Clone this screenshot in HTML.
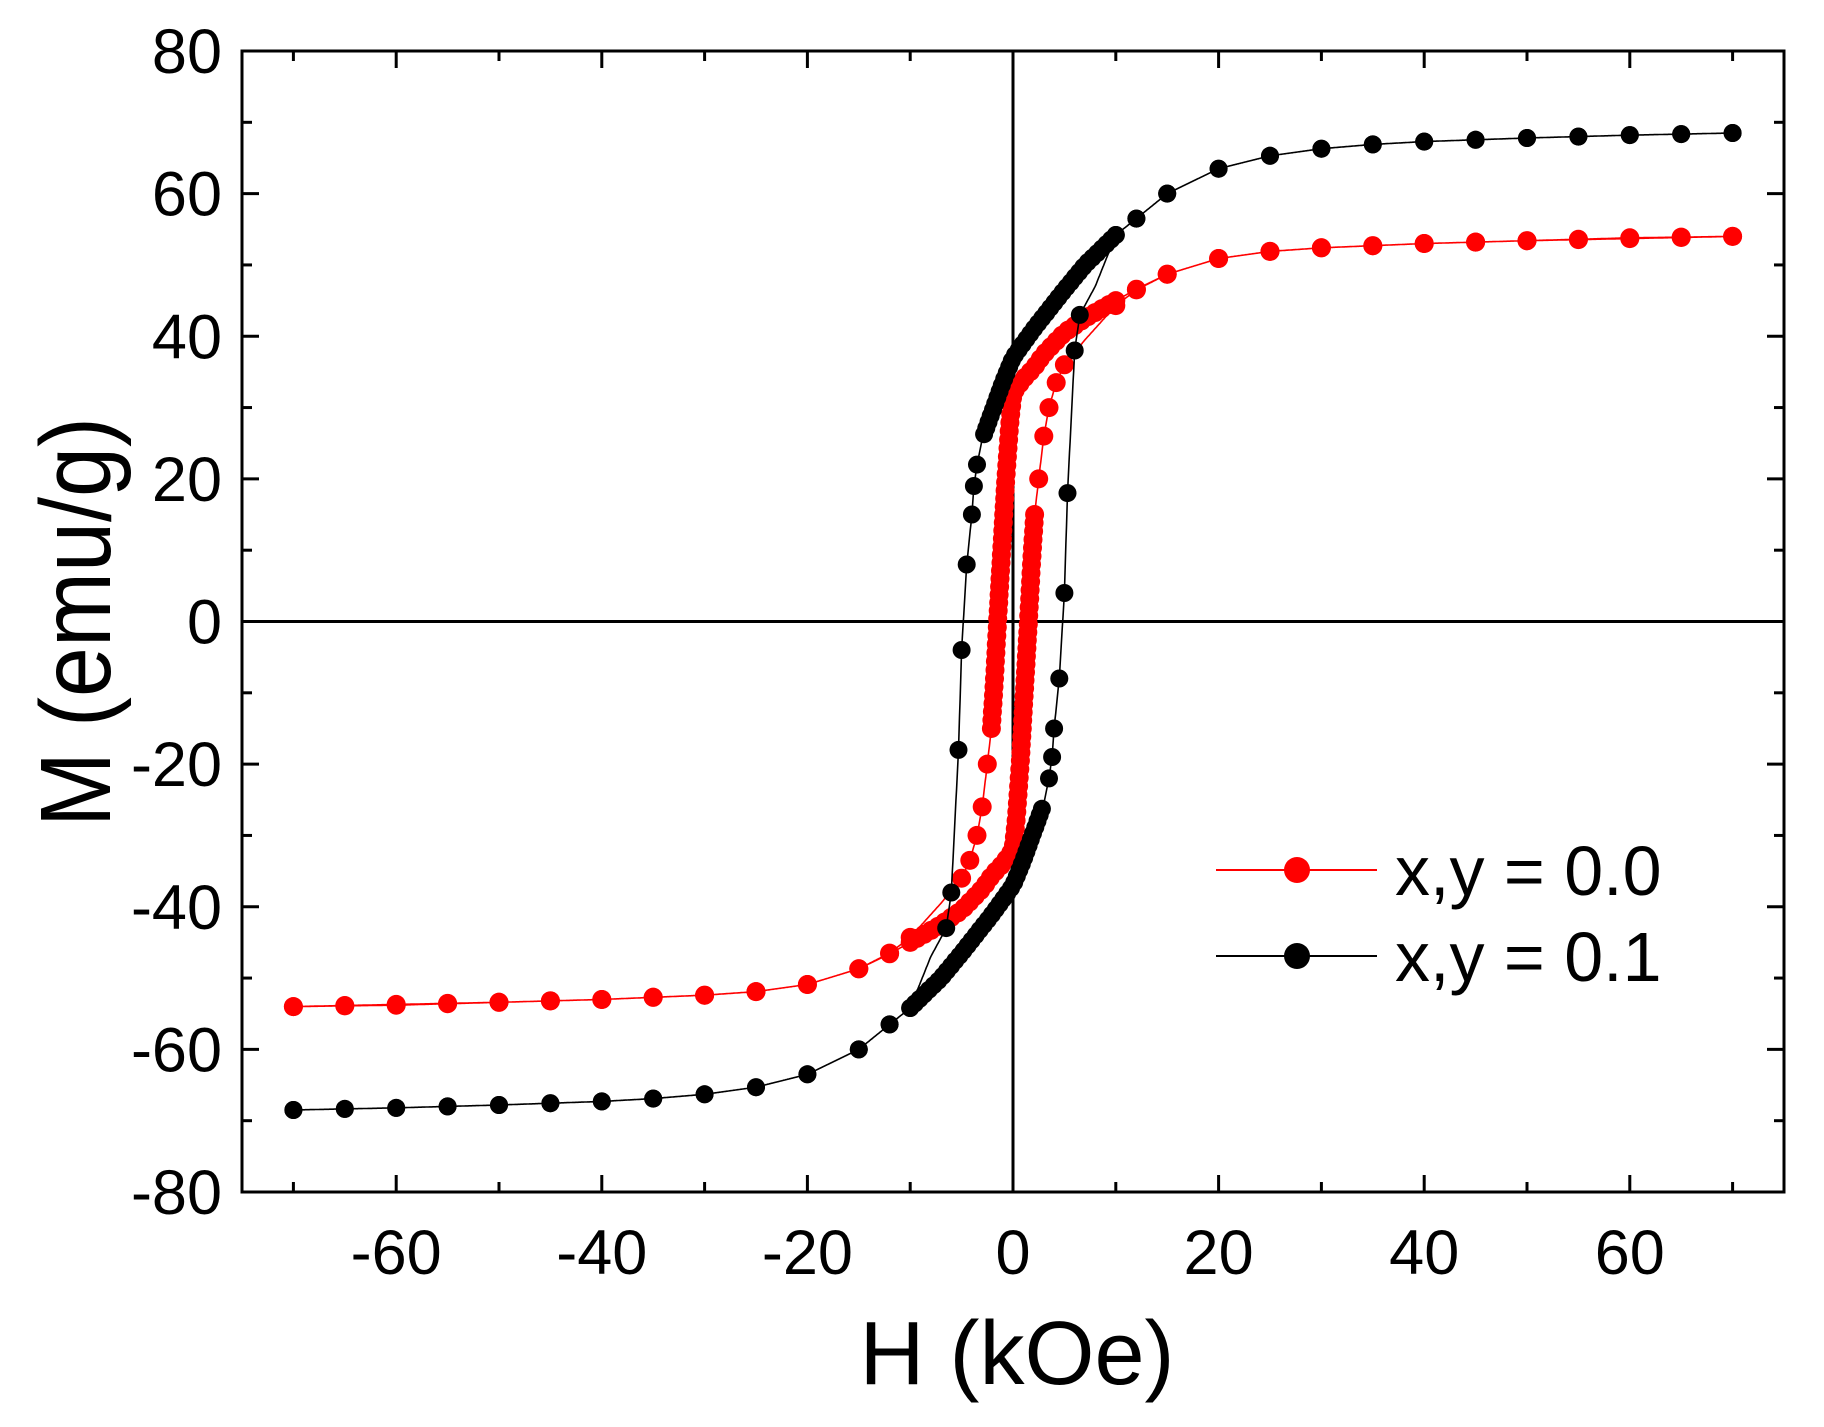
<!DOCTYPE html>
<html><head><meta charset="utf-8"><style>
html,body{margin:0;padding:0;background:#fff;}
svg{display:block;font-family:"Liberation Sans",Arial,sans-serif;}
</style></head><body>
<svg id="s" width="1824" height="1427" viewBox="0 0 1824 1427" xmlns="http://www.w3.org/2000/svg"></svg>
<script>
const S=document.getElementById('s');
const L=242,R=1784,T=51,B=1192;
const X=h=>(L+R)/2+h*(R-L)/150;
const Y=m=>(T+B)/2-m*(B-T)/160;
let out='';
function interp(tab,h){for(let i=0;i<tab.length-1;i++){const a=tab[i],b=tab[i+1];if(h<=a[0]&&h>=b[0]){const t=(h-a[0])/(b[0]-a[0]);return a[1]+t*(b[1]-a[1]);}}return tab[tab.length-1][1];}
function branch(tab,sparseHi,denseFrom,denseTo,jumpList,sparseLo,sp){
 const pts=[];sparseHi.forEach(h=>pts.push([h,interp(tab,h)]));
 let h=denseFrom,last=[X(h),Y(interp(tab,h))];pts.push([h,interp(tab,h)]);
 while(h>denseTo){h-=0.005;const p=[X(h),Y(interp(tab,h))];if(Math.hypot(p[0]-last[0],p[1]-last[1])>=sp){pts.push([h,interp(tab,h)]);last=p;}}
 jumpList.forEach(h=>pts.push([h,interp(tab,h)]));
 sparseLo.forEach(h=>pts.push([h,interp(tab,h)]));
 return pts;}
const hiList=[70,65,60,55,50,45,40,35,30,25,20,15,12];
const loList=[-10,-12,-15,-20,-25,-30,-35,-40,-45,-50,-55,-60,-65,-70];
const red=[[70,54],[60,53.8],[50,53.4],[40,53],[30,52.4],[25,51.9],[20,50.9],[15,48.7],[12,46.6],[10,45],[7,42.5],[5,40.5],[3,37.5],[2,35.5],[1,34],[0,32],[-0.3,28],[-0.7,20],[-1.1,10],[-1.5,0],[-1.8,-8],[-2.1,-15],[-2.5,-20],[-3,-26],[-3.5,-30],[-4.2,-33.5],[-5,-36],[-7,-39.5],[-10,-44.3],[-12,-46.5],[-15,-48.7],[-20,-50.9],[-25,-51.9],[-30,-52.4],[-40,-53],[-50,-53.4],[-60,-53.7],[-70,-54]];
const blk=[[70,68.5],[60,68.2],[50,67.8],[40,67.3],[35,66.9],[30,66.3],[25,65.3],[20,63.5],[15,60],[12,56.5],[10,54.2],[7,50],[5,46.5],[2,41],[0,37],[-1,33.5],[-2,29.5],[-3,25.5],[-3.5,22],[-3.8,19],[-4,15],[-4.5,8],[-5,-4],[-5.3,-18],[-6,-38],[-6.5,-43],[-8,-47],[-10,-54.2],[-12,-56.5],[-15,-60],[-20,-63.5],[-25,-65.3],[-30,-66.3],[-35,-66.9],[-40,-67.3],[-50,-67.8],[-60,-68.2],[-70,-68.5]];
const rd=branch(red,hiList,10,-2.1,[-2.5,-3,-3.5,-4.2,-5],loList,8);
const bd=branch(blk,hiList,10,-3,[-3.5,-3.8,-4,-4.5,-5,-5.3,-6,-6.5],loList,6.5);
function draw(tab,pts,col,r){
 const hs=[];for(let h=70;h>=-70;h-=0.05)hs.push(h);
 let d='M'+hs.map(h=>X(h).toFixed(1)+','+Y(interp(tab,h)).toFixed(1)).join('L');
 d+='M'+hs.slice().reverse().map(h=>X(-h).toFixed(1)+','+Y(-interp(tab,h)).toFixed(1)).join('L');
 out+=`<path d="${d}" fill="none" stroke="${col}" stroke-width="1.6"/>`;
 pts.forEach(p=>{out+=`<circle cx="${X(p[0]).toFixed(1)}" cy="${Y(p[1]).toFixed(1)}" r="${r}" fill="${col}"/>`;
  out+=`<circle cx="${X(-p[0]).toFixed(1)}" cy="${Y(-p[1]).toFixed(1)}" r="${r}" fill="${col}"/>`;});
}
out+=`<line x1="${L}" y1="${Y(0)}" x2="${R}" y2="${Y(0)}" stroke="#000" stroke-width="3"/>`;
out+=`<line x1="${X(0)}" y1="${T}" x2="${X(0)}" y2="${B}" stroke="#000" stroke-width="3"/>`;
draw(red,rd,'#f00',9.5);
draw(blk,bd,'#000',9);
out+=`<rect x="${L}" y="${T}" width="${R-L}" height="${B-T}" fill="none" stroke="#000" stroke-width="3"/>`;
for(let h=-70;h<=70;h+=10){const maj=h%20===0;const len=maj?17:10;const x=X(h);
 out+=`<line x1="${x}" y1="${B}" x2="${x}" y2="${B-len}" stroke="#000" stroke-width="3"/><line x1="${x}" y1="${T}" x2="${x}" y2="${T+len}" stroke="#000" stroke-width="3"/>`;
 if(h%20===0&&Math.abs(h)<=60) out+=`<text x="${x}" y="1274" font-size="63" text-anchor="middle">${h}</text>`;}
for(let m=-80;m<=80;m+=10){const maj=m%20===0;const len=maj?17:10;const y=Y(m);
 out+=`<line x1="${L}" y1="${y}" x2="${L+len}" y2="${y}" stroke="#000" stroke-width="3"/><line x1="${R}" y1="${y}" x2="${R-len}" y2="${y}" stroke="#000" stroke-width="3"/>`;
 if(maj) out+=`<text x="222" y="${y+22}" font-size="63" text-anchor="end">${m}</text>`;}
out+=`<text x="1017" y="1384" font-size="90" text-anchor="middle">H (kOe)</text>`;
out+=`<text transform="translate(110,622) rotate(-90) scale(0.9,1)" font-size="100" text-anchor="middle">M (emu/g)</text>`;
out+=`<line x1="1216" y1="870" x2="1377" y2="870" stroke="#f00" stroke-width="2"/><circle cx="1297" cy="870" r="13" fill="#f00"/>`;
out+=`<text x="1395" y="895" font-size="70">x,y = 0.0</text>`;
out+=`<line x1="1216" y1="956" x2="1377" y2="956" stroke="#000" stroke-width="2"/><circle cx="1297" cy="956" r="13" fill="#000"/>`;
out+=`<text x="1395" y="981" font-size="70">x,y = 0.1</text>`;
S.innerHTML=out;
</script>
</body></html>
